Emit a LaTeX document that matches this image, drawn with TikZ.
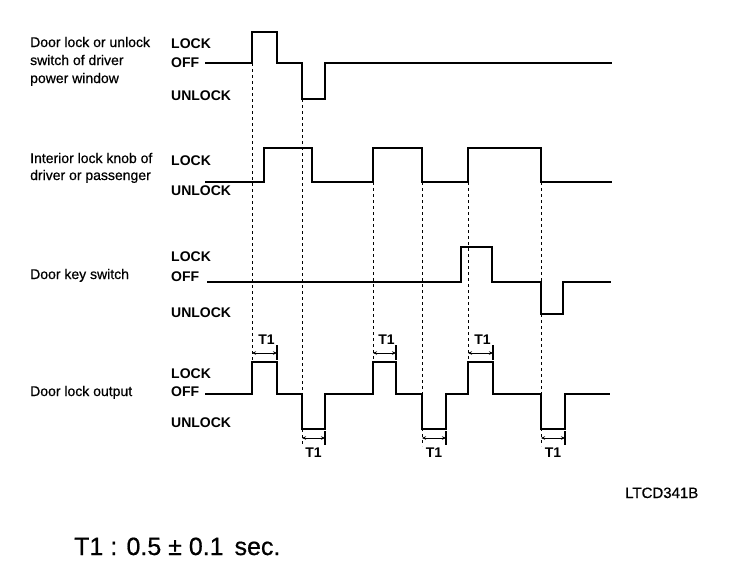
\documentclass[tikz,border=0pt]{standalone}
\usepackage{fontspec}
\setmainfont{Liberation Sans}
\newfontfamily\heavyfont[FakeBold=0.6]{Liberation Sans}
\usetikzlibrary{arrows.meta}
\begin{document}
\begin{tikzpicture}[x=1pt,y=-1pt,
  sig/.style={line width=2.6pt, line join=miter},
  guide/.style={dash pattern=on 3pt off 3pt, line width=0.8pt},
  lvl/.style={font=\fontsize{14}{14}\selectfont\bfseries, anchor=base west, inner sep=0},
  lab/.style={font=\fontsize{14}{14}\selectfont\heavyfont, anchor=base west, inner sep=0},
  dim/.style={{Stealth[length=4pt,width=3.5pt]}-{Stealth[length=4pt,width=3.5pt]}, line width=0.9pt},
  tickline/.style={line width=1.2pt},
  tl/.style={font=\fontsize{14}{14}\selectfont\bfseries, inner sep=0, anchor=base}
]
\useasboundingbox (0,0) rectangle (752,584);

% left labels
\node[lab] (l1a) at (30,47) {Door lock or unlock};
\node[lab] (l1b) at (30,65) {switch of driver};
\node[lab] (l1c) at (30,83) {power window};
\node[lab] (l2a) at (30,163) {Interior lock knob of};
\node[lab] (l2b) at (30,180) {driver or passenger};
\node[lab] (l3a) at (30,279) {Door key switch};
\node[lab] (l4a) at (30,396) {Door lock output};

% level labels
\node[lvl] (s1l) at (171,48) {LOCK};
\node[lvl] (s1o) at (171,67) {OFF};
\node[lvl] (s1u) at (171,100) {UNLOCK};
\node[lvl] (s2l) at (171,165) {LOCK};
\node[lvl] (s2u) at (171,195) {UNLOCK};
\node[lvl] (s3l) at (171,261) {LOCK};
\node[lvl] (s3o) at (171,281) {OFF};
\node[lvl] (s3u) at (171,317) {UNLOCK};
\node[lvl] (s4l) at (171,378) {LOCK};
\node[lvl] (s4o) at (171,396) {OFF};
\node[lvl] (s4u) at (171,427) {UNLOCK};

% guide lines
\draw[guide] (252,63) -- (252,362);
\draw[guide] (302,99) -- (302,446);
\draw[guide] (373,182) -- (373,362);
\draw[guide] (422,182) -- (422,446);
\draw[guide] (468,182) -- (468,362);
\draw[guide] (541,182) -- (541,446);

% signals
\draw[sig] (205,63) -- (252,63) -- (252,32) -- (277,32) -- (277,63) -- (302,63) -- (302,99) -- (325,99) -- (325,63) -- (612,63);
\draw[sig] (205,182) -- (264,182) -- (264,148) -- (312,148) -- (312,182) -- (373,182) -- (373,148) -- (422,148) -- (422,182) -- (468,182) -- (468,148) -- (541,148) -- (541,182) -- (612,182);
\draw[sig] (207,282) -- (461,282) -- (461,247) -- (492,247) -- (492,282) -- (541,282) -- (541,314) -- (563,314) -- (563,282) -- (611,282);
\draw[sig] (205,394) -- (252,394) -- (252,362) -- (277,362) -- (277,394) -- (302,394) -- (302,429) -- (325,429) -- (325,394) -- (373,394) -- (373,362) -- (396,362) -- (396,394) -- (422,394) -- (422,429) -- (446,429) -- (446,394) -- (468,394) -- (468,362) -- (493,362) -- (493,394) -- (541,394) -- (541,429) -- (565,429) -- (565,394) -- (610,394);

% T1 markers above
\foreach \a/\b [count=\i] in {252/277,373/396,468/493}{
  \draw[dim] (\a,353) -- (\b,353);
  \draw[tickline] (\b,345) -- (\b,360);
  \node[tl] (tu\i) at ({(\a+\b)/2+2},344) {T1};
}
% T1 markers below
\foreach \a/\b [count=\i] in {302/325,422/446,541/565}{
  \draw[dim] (\a,438) -- (\b,438);
  \draw[tickline] (\b,431) -- (\b,445);
  \node[tl] (td\i) at ({(\a+\b)/2},457) {T1};
}

\node[anchor=base west, inner sep=0, font=\fontsize{15}{15}\selectfont\heavyfont] (code) at (625,498) {LTCD341B};
\node[anchor=base west, inner sep=0, font=\fontsize{25}{25}\selectfont\heavyfont] (note) at (74,555) {T1 : 0.5 ± 0.1\hspace{4pt} sec.};
\end{tikzpicture}
\end{document}
